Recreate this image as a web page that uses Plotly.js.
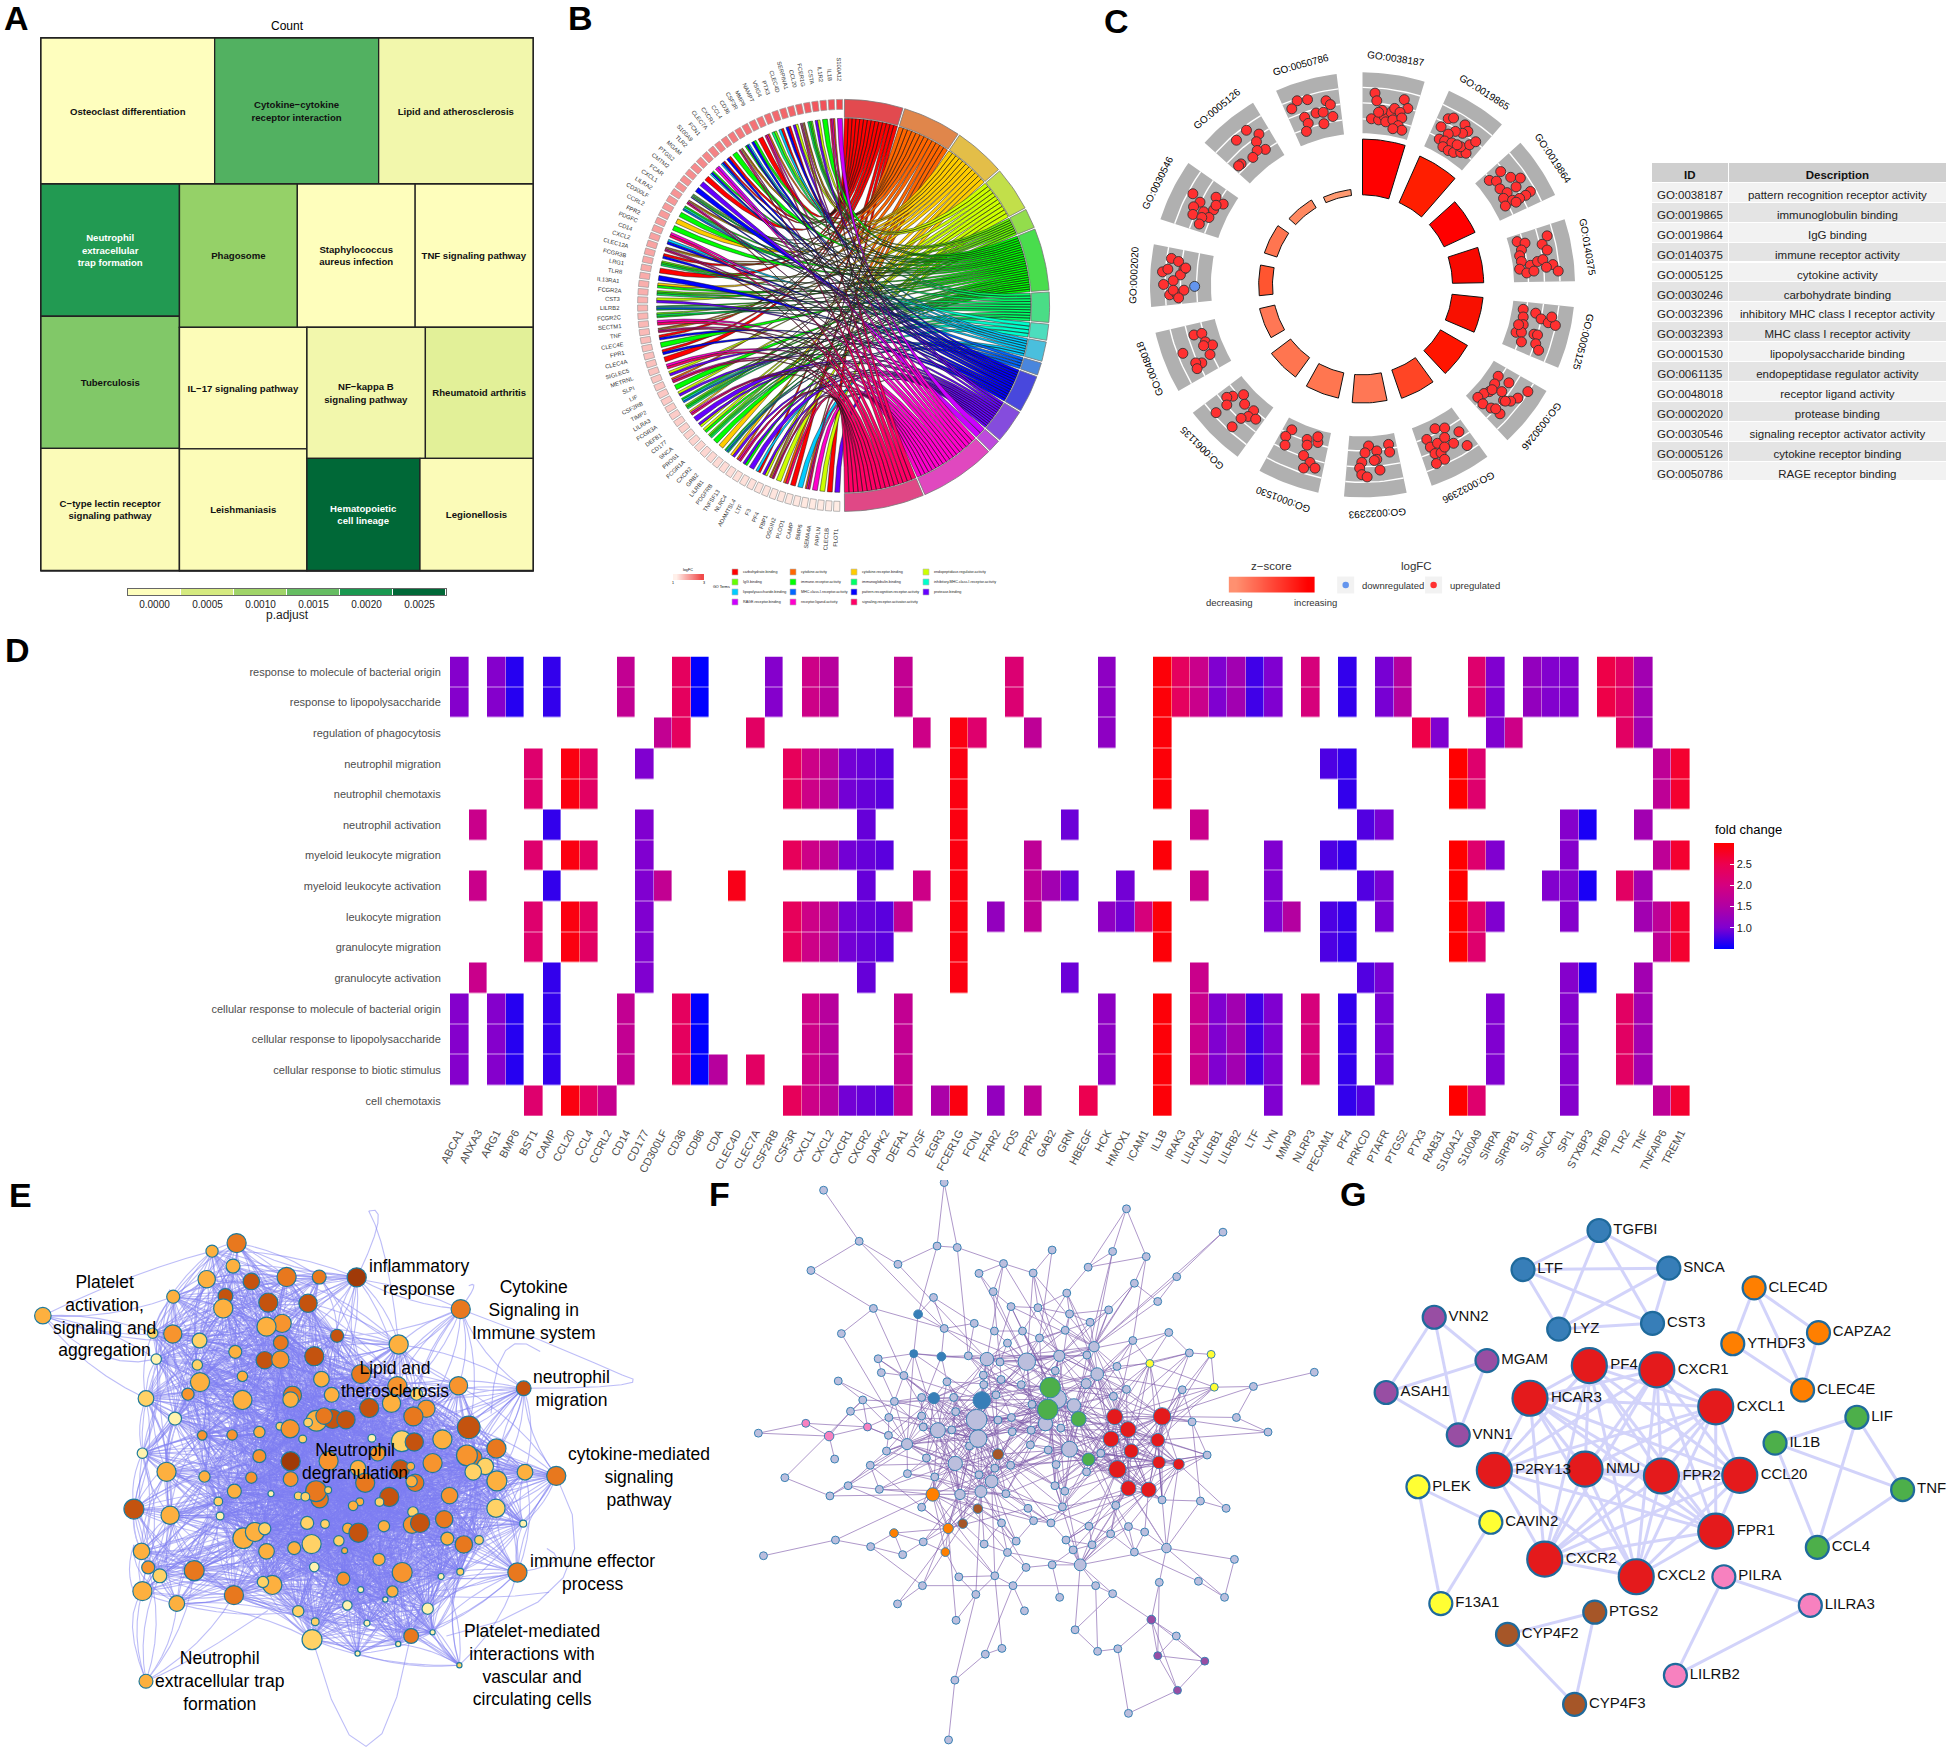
<!DOCTYPE html>
<html>
<head>
<meta charset="utf-8">
<script src="https://cdn.plot.ly/plotly-3.0.1.min.js"></script>
<style>html,body{margin:0;padding:0;background:#fff}</style>
</head>
<body>
<div id="plot" style="width:1948px;height:1752px"></div>
<script>
const PAGE_W = 1948, PAGE_H = 1752
const FONT = '"Liberation Sans", Arial, sans-serif'

// ---- panel A: KEGG treemap (gene counts and p.adjust colours)
const treeIds = ['Count','all','top','rest','c1','c2','c3','left','right','n1','t1','ct','r2','bottom','ph','st','tn','colIL','colR','il','le','rowNF','rowHe','nf','rh','he','lg']
const treeParents = ['','Count','all','all','top','top','top','rest','rest','left','left','left','right','right','r2','r2','r2','bottom','bottom','colIL','colIL','colR','colR','rowNF','rowNF','rowHe','rowHe']
const treeCounts = [0,0,0,0,18,17,16,0,0,13,13,12,0,0,12,12,12,0,0,11,11,0,0,11,10,9,9]
const treeText = ['','','','','Osteoclast differentiation','Cytokine\u2212cytokine<br>receptor interaction','Lipid and atherosclerosis','','','Neutrophil<br>extracellular<br>trap formation','Tuberculosis','C\u2212type lectin receptor<br>signaling pathway','','','Phagosome','Staphylococcus<br>aureus infection','TNF signaling pathway','','','IL\u221217 signaling pathway','Leishmaniasis','','','NF\u2212kappa B<br>signaling pathway','Rheumatoid arthritis','Hematopoietic<br>cell lineage','Legionellosis'].map(t => t ? '<b>' + t + '</b>' : t)
const treeColors = ['#fff','#fff','#fff','#fff','#FEFEBE','#52B161','#F2F7AC','#fff','#fff','#229A52','#81C868','#FBFBB8','#fff','#fff','#95D168','#FEFEBC','#FEFEBC','#fff','#fff','#FCFCB8','#FCFCB8','#fff','#fff','#F2F7AC','#E2F098','#006837','#FBFBB8']
const treeTextColors = treeIds.map(id => (id === 'n1' || id === 'he') ? '#fff' : '#111')
const padjustTicks = ['0.0000','0.0005','0.0010','0.0015','0.0020','0.0025']
const padjustColors = ['#FEFEBC','#D5EA80','#A0D468','#66BD63','#1A9850','#006837']

// ---- panel B: GO chord
const chordTerms = ['carbohydrate.binding','cytokine.activity','cytokine.receptor.binding','endopeptidase.regulator.activity','IgG.binding','immune.receptor.activity','immunoglobulin.binding','inhibitory.MHC.class.I.receptor.activity','lipopolysaccharide.binding','MHC.class.I.receptor.activity','pattern.recognition.receptor.activity','protease.binding','RAGE.receptor.binding','receptor.ligand.activity','signaling.receptor.activator.activity']
const chordTermSize = [17,17,15,13,6,18,9,5,6,4,11,10,4,22,23]
const chordColors = ['#FF0000','#FF6600','#FFCC00','#CCFF00','#66FF00','#00FF00','#00FF66','#00FFCC','#00CCFF','#0066FF','#0000FF','#6600FF','#CC00FF','#FF00CC','#FF0066']
const chordRing = ['#E24A4F','#E0864B','#E3BE48','#C2DF4A','#93DD4C','#49DD4D','#4ADD86','#4CDDBD','#4ABFDD','#4A86DD','#4848DD','#854CDD','#BE4ADD','#E048BF','#E04886']
const chordGenes = ['S100A12','IL1B','IL1R2','CSTA','FCER1G','CCL20','SERPINA1','CLEC4D','PTX3','VSIG4','NAMPT','MMP9','CSF3R','CD36','CCL4','CXCR1','CLEC7A','FCN1','S100A9','TLR2','MGAM','PTGS2','CMTM2','FCAR','CXCL1','LILRA2','CD300LF','CCRL2','FPR2','PDGFC','CD14','CXCL2','CLEC12A','FCGR3B','LRG1','TLR8','IL13RA1','FCGR2A','CST3','LILRB2','FCGR2C','SECTM1','TNF','CLEC4E','FPR1','CLEC4A','SIGLEC5','METRNL','SLPI','LIF','CSF2RB','TIMP2','LILRA3','FCGR3A','DEFB1','CD177','SNCA','PROS1','FCGR1A','CXCR2','GRB2','LILRB1','PDGFRB','TNFSF13','NLRC4','ADAMTSL4','LTF','F3','PF4','FBP1','OSGIN2','PLOD1','CAMP','BMP6','SEMA4A','PAPLN','CLEC1B','FLOT1']
const chordGeneTerms = [[12],[1,13,14],[5],[3,11],[4,5,6],[1,2,13,14],[3,11],[0,10],[0,8],[4,6],[1,13,14],[0],[5,10],[8,10,5],[1,2,13,14],[5],[0,10],[0,10,8],[12,13],[5,10,8],[0],[11],[10],[4,6,5,10],[1,2,13,14],[5,7,9],[5],[2],[5],[13,14],[8,10],[1,2,13,14],[0,10],[4,5,6],[0],[10],[2,5],[4,5,6],[3,11],[5,7,9,6],[4,6,5],[13,14],[1,2,13,14],[0,10],[5],[0,10],[0],[13,14],[3,11],[1,13,14],[5],[3,11],[5,7,9],[4,5,6],[2,13,14],[11],[11,3],[3,5],[4,5,6],[5],[2],[5,7,9,6],[2,11],[1,13,14],[11,5],[11],[8,0],[11,3],[1,2,13,14],[3],[1,14],[0],[8],[1,13,14],[13],[3],[0],[11]]
const chordLogFC = [3.0,2.9,2.85,2.8,2.75,2.7,2.65,2.62,2.58,2.55,2.5,2.47,2.44,2.4,2.37,2.34,2.3,2.27,2.24,2.2,2.18,2.15,2.12,2.09,2.06,2.03,2.0,1.98,1.95,1.93,1.9,1.88,1.85,1.83,1.8,1.78,1.75,1.73,1.7,1.68,1.65,1.63,1.6,1.58,1.56,1.54,1.52,1.5,1.48,1.46,1.44,1.42,1.4,1.38,1.36,1.34,1.32,1.3,1.28,1.26,1.24,1.22,1.2,1.18,1.17,1.15,1.14,1.12,1.11,1.1,1.08,1.07,1.06,1.05,1.04,1.03,1.02,1.0]

// ---- panel C: GO circle
const goIds = ['GO:0038187','GO:0019865','GO:0019864','GO:0140375','GO:0005125','GO:0030246','GO:0032396','GO:0032393','GO:0001530','GO:0061135','GO:0048018','GO:0002020','GO:0030546','GO:0005126','GO:0050786']
const goDescriptions = ['pattern recognition receptor activity','immunoglobulin binding','IgG binding','immune receptor activity','cytokine activity','carbohydrate binding','inhibitory MHC class I receptor activity','MHC class I receptor activity','lipopolysaccharide binding','endopeptidase regulator activity','receptor ligand activity','protease binding','signaling receptor activator activity','cytokine receptor binding','RAGE receptor binding']
const goNegLogP = [9.3,8.5,5.7,5.2,5.2,5.2,5.0,4.7,4.3,4.0,2.6,2.3,2.2,1.5,1.0]
const goZColors = ['#FF0000','#FF1E00','#FF0000','#F80800','#F81000','#FF1500','#FF4525','#FF7755','#FF7650','#FF7550','#FF7755','#FF5530','#FF7550','#FF8860','#FF9970']
const goUpX = [770,775,852,862,760,780,795,815,825,840,790,800,820,845,835,845,820,780, 975,990,955,1022,1030,1015,995,975,950,965,985,960,975,990,1010,1025,1010,1035,1052,1000, 1122,1090,1110,1150,1177,1120,1140,1165,1205,1192,1130,1155,1175,1135,1165, 1168,1190,1180,1175,1252,1238,1252,1180,1205,1225,1240,1268,1283,1175,1195,1215,1250, 1185,1220,1235,1255,1275,1265,1185,1185,1165,1180,1180,1215,1225,1220,1228,1172, 1115,1145,1198,1170,1150,1130,1105,1090,1075,1058,1072,1098,1125,1095,1120,1108,1135, 938,965,1005,915,925,945,965,990,1028,938,955,965,942,965, 752,808,811,742,775,775,768,733,727,784,733,748, 537,520,518,580,580,610,610,570,588,602,570, 402,372,355,355,405,430,325,415,395,370,436, 263,285,295,315,290,232,308,285,268,272, 200,220,235,225,240,175,190,205,178,195,215,235,205,220, 260,325,280,345,262,318,325,260,290,305,285,278, 410,445,382,438,463,440,428,395,388, 552,581,633,645,537,605,625,652,573,583,627,578]
const goUpY = [165,185,182,205,232,235,225,215,205,215,210,240,235,230,250,262,258,215, 232,230,253,248,265,270,265,272,285,290,295,305,315,320,320,322,305,300,292,300, 370,393,395,385,387,415,425,410,422,432,440,445,440,460,450, 553,557,575,590,538,560,575,605,615,605,600,613,630,625,635,630,620, 730,740,755,765,772,750,750,770,790,790,815,795,797,820,837,770, 905,922,945,962,970,968,925,945,950,960,977,940,945,988,1003,990,970, 1042,1040,1050,1070,1090,1080,1065,1080,1086,1107,1105,1122,1133,1090, 1087,1083,1103,1105,1100,1122,1125,1130,1145,1150,1162,1168, 1045,1062,1085,1070,1085,1078,1063,1112,1130,1145,1145, 953,957,960,980,978,995,1000,1010,1015,1037,1017, 797,793,815,823,825,845,848,870,870,885, 597,605,625,640,622,632,625,655,665,692,690,680,680,700, 428,437,450,455,462,470,458,482,475,490,490,507, 262,272,288,292,312,315,333,350,355, 185,182,185,195,206,217,215,226,228,244,245,265]
const goDownX = [265]
const goDownY = [670]

// ---- panel D: fold change heatmap
const dGenes = ['ABCA1','ANXA3','ARG1','BMP6','BST1','CAMP','CCL20','CCL4','CCRL2','CD14','CD177','CD300LF','CD36','CD86','CDA','CLEC4D','CLEC7A','CSF2RB','CSF3R','CXCL1','CXCL2','CXCR1','CXCR2','DAPK2','DEFA1','DYSF','EGR3','FCER1G','FCN1','FFAR2','FOS','FPR2','GAB2','GRN','HBEGF','HCK','HMOX1','ICAM1','IL1B','IRAK3','LILRA2','LILRB1','LILRB2','LTF','LYN','MMP9','NLRP3','PECAM1','PF4','PRKCD','PTAFR','PTGS2','PTX3','RAB31','S100A12','S100A9','SIRPA','SIRPB1','SLPI','SNCA','SPI1','STXBP3','THBD','TLR2','TNF','TNFAIP6','TREM1']
const dFold = [1.05,1.85,1.05,0.65,2.2,0.7,2.9,2.3,1.8,1.75,1.0,1.75,2.35,0.5,1.6,2.85,2.3,1.05,2.4,1.9,1.6,0.95,0.9,0.85,1.75,1.9,1.45,2.9,2.2,1.2,2.15,1.7,1.35,0.92,2.5,1.15,0.95,2.05,2.95,2.35,1.85,1.0,1.35,0.75,1.0,1.55,2.05,0.8,0.7,0.82,0.97,1.6,2.55,1.0,3.0,2.2,1.0,1.9,1.2,1.02,1.05,0.6,2.55,2.3,1.35,1.7,2.7]
const dTerms = ['response to molecule of bacterial origin','response to lipopolysaccharide','regulation of phagocytosis','neutrophil migration','neutrophil chemotaxis','neutrophil activation','myeloid leukocyte migration','myeloid leukocyte activation','leukocyte migration','granulocyte migration','granulocyte activation','cellular response to molecule of bacterial origin','cellular response to lipopolysaccharide','cellular response to biotic stimulus','cell chemotaxis']
const bactGenes = 'ABCA1 ARG1 BMP6 CAMP CD14 CD36 CD86 CSF2RB CXCL1 CXCL2 DEFA1 FOS HCK IL1B IRAK3 LILRA2 LILRB1 LILRB2 LTF LYN NLRP3 PF4 PTAFR PTGS2 S100A9 SIRPA SLPI SNCA SPI1 THBD TLR2 TNF'
const cellBactGenes = 'ABCA1 ARG1 BMP6 CAMP CD14 CD36 CD86 CXCL1 CXCL2 DEFA1 HCK IL1B LILRA2 LILRB1 LILRB2 LTF LYN NLRP3 PF4 PTAFR SIRPA SPI1 TLR2 TNF'
const activationGenes = 'ANXA3 CAMP CD177 CXCR2 FCER1G GRN LILRA2 PRKCD PTAFR SPI1 STXBP3 TNF'
const dTermGenes = [
  bactGenes,
  bactGenes,
  'CD300LF CD36 CLEC7A DYSF FCER1G FCN1 FPR2 HCK IL1B PTX3 RAB31 SIRPA SIRPB1 TLR2 TNF',
  'BST1 CCL20 CCL4 CD177 CSF3R CXCL1 CXCL2 CXCR1 CXCR2 DAPK2 FCER1G IL1B PECAM1 PF4 S100A12 S100A9 TNFAIP6 TREM1',
  'BST1 CCL20 CCL4 CSF3R CXCL1 CXCL2 CXCR1 CXCR2 DAPK2 FCER1G IL1B PF4 S100A12 S100A9 TNFAIP6 TREM1',
  activationGenes,
  'BST1 CCL20 CCL4 CD177 CSF3R CXCL1 CXCL2 CXCR1 CXCR2 DAPK2 FCER1G FPR2 IL1B LYN PECAM1 PF4 S100A12 S100A9 SIRPA SPI1 TNFAIP6 TREM1',
  'ANXA3 CAMP CD177 CD300LF CLEC4D CXCR2 DYSF FCER1G FPR2 GAB2 GRN HMOX1 LILRA2 LYN PRKCD PTAFR S100A12 SNCA SPI1 STXBP3 TLR2 TNF',
  'BST1 CCL20 CCL4 CD177 CSF3R CXCL1 CXCL2 CXCR1 CXCR2 DAPK2 DEFA1 FCER1G FFAR2 FPR2 HCK HMOX1 ICAM1 IL1B LYN MMP9 PECAM1 PF4 PTAFR S100A12 S100A9 SIRPA SPI1 TNF TNFAIP6 TREM1',
  'BST1 CCL20 CCL4 CD177 CSF3R CXCL1 CXCL2 CXCR1 CXCR2 DAPK2 FCER1G IL1B PECAM1 PF4 S100A12 S100A9 TNFAIP6 TREM1',
  activationGenes,
  cellBactGenes,
  cellBactGenes,
  cellBactGenes + ' CDA CLEC7A',
  'BST1 CCL20 CCL4 CCRL2 CSF3R CXCL1 CXCL2 CXCR1 CXCR2 DAPK2 DEFA1 EGR3 FCER1G FFAR2 FPR2 HBEGF IL1B LYN PF4 PRKCD S100A12 S100A9 SPI1 TNFAIP6 TREM1'
]
const foldScale = [[0,'#0000FF'],[0.2,'#8000D0'],[0.4,'#B000A4'],[0.6,'#D40080'],[0.8,'#EC0050'],[1,'#FF0000']]

// ---- panel E: enrichment network, nodes read as [x, y, diameter, shade] in crop pixels
const eShades = ['#FFF3AE','#FFD266','#FDB03F','#F7942E','#E8781E','#C4530F','#A03A08']
const eNodes = [[530,173,44,4],[475,195,28,2],[522,236,32,2],[463,272,40,2],[563,278,38,5],[642,266,44,4],[715,266,32,4],[799,267,44,6],[96,372,38,2],[388,320,30,2],[505,318,34,5],[500,352,44,2],[601,336,44,5],[690,338,42,5],[1032,354,44,4],[387,422,42,3],[342,420,24,1],[447,440,34,1],[632,393,42,3],[597,402,44,2],[755,427,30,5],[893,451,44,2],[629,446,34,4],[527,471,30,2],[350,491,24,0],[593,494,40,5],[628,492,40,3],[704,483,44,5],[442,507,24,1],[543,538,24,2],[448,554,44,2],[720,546,36,2],[809,532,44,4],[890,565,44,3],[1027,564,42,3],[1173,571,34,5],[421,587,28,3],[327,599,36,1],[543,603,44,2],[655,590,42,4],[651,602,36,2],[743,589,34,2],[877,612,42,2],[933,587,28,1],[392,654,30,0],[827,625,44,5],[955,627,40,3],[926,648,44,4],[709,660,48,2],[745,655,44,5],[726,647,38,4],[775,657,42,5],[1050,678,52,5],[627,675,18,1],[690,665,20,1],[650,682,42,3],[453,700,22,3],[520,699,24,3],[581,691,26,2],[678,710,18,1],[833,708,18,0],[900,716,48,1],[928,718,42,5],[991,711,44,2],[319,749,24,0],[1112,736,44,4],[581,757,30,3],[651,771,44,6],[736,770,44,3],[846,750,34,3],[1062,760,36,4],[1046,755,48,3],[969,776,44,3],[373,800,44,2],[458,813,26,2],[563,816,26,3],[802,790,36,2],[897,792,42,5],[920,785,18,2],[1087,785,38,1],[1060,800,38,1],[1176,801,36,2],[1246,811,44,4],[1113,825,46,2],[651,820,34,3],[930,830,40,4],[922,826,26,2],[818,830,44,4],[716,875,40,4],[708,853,48,4],[735,850,16,1],[668,866,18,1],[684,868,20,1],[525,853,32,2],[607,860,14,0],[872,869,44,5],[1007,865,38,3],[489,881,20,1],[806,882,18,2],[791,893,22,2],[850,883,20,1],[300,902,46,5],[1111,900,42,1],[381,919,42,2],[493,921,18,0],[925,910,24,1],[1172,942,16,0],[688,940,30,1],[728,943,20,1],[995,930,40,4],[923,945,40,3],[941,940,44,5],[545,982,48,2],[571,965,44,2],[593,956,28,1],[860,949,26,2],[779,955,24,2],[803,967,44,5],[759,989,24,1],[1002,983,30,2],[1039,999,40,4],[1073,987,20,1],[317,1018,38,2],[698,998,44,1],[659,1009,30,2],[597,1018,36,2],[772,1016,14,2],[849,1040,28,2],[332,1062,30,3],[704,1061,22,0],[435,1071,46,4],[358,1085,32,1],[901,1076,46,3],[1159,1076,44,4],[1031,1074,16,1],[988,1087,14,0],[769,1093,30,3],[319,1127,44,2],[610,1110,44,2],[589,1102,26,1],[524,1138,44,4],[879,1128,26,2],[396,1161,36,2],[808,1123,14,0],[863,1150,12,0],[778,1166,22,0],[958,1175,26,0],[668,1182,26,1],[706,1211,18,1],[822,1215,14,0],[699,1260,46,1],[921,1250,34,4],[969,1240,12,0],[892,1272,12,0],[801,1298,12,0],[1029,1330,12,1],[327,1374,32,2]]
// long looping edges as [x0, y0, cx, cy, x1, y1]
const eLoops = [[327,1374,270,1200,320,1130],[327,1374,420,1330,600,1180],[800,267,880,60,826,85],[826,85,870,180,893,451],[700,1260,830,1850,920,1250],[1032,354,1200,430,1395,535],[1173,571,1500,570,1395,535],[1246,811,1400,1150,1000,1250],[1159,1076,1290,1050,1225,1010],[780,1100,1000,1170,1230,1130],[1100,640,1110,380,1210,470],[380,300,335,550,380,800],[96,372,230,530,350,491],[96,372,300,250,475,195],[300,1000,280,1070,300,1130],[396,1161,290,1090,300,1000],[1246,811,1200,900,1172,942],[1032,354,1080,270,1050,290]]
const eLabels = ['Platelet<br>activation,<br>signaling and<br>aggregation','inflammatory<br>response','Cytokine<br>Signaling in<br>Immune system','Lipid and<br>therosclerosis','neutrophil<br>migration','Neutrophil<br>degranulation','cytokine-mediated<br>signaling<br>pathway','immune effector<br>process','Platelet-mediated<br>interactions with<br>vascular and<br>circulating cells','Neutrophil<br>extracellular trap<br>formation']
const eLabelX = [233,938,1197,885,1280,795,1431,1327,1192,492]
const eLabelY = [373,268,355,547,572,771,813,1076,1330,1374]

// ---- panel F: PPI network, nodes read as [x, y, diameter] in crop pixels
const fGrayNodes = [[262,28],[567,7],[352,168],[549,181],[600,185],[717,229],[840,192],[993,196],[1028,79],[1078,210],[1272,143],[931,239],[1155,265],[230,248],[450,231],[655,256],[792,255],[1048,283],[877,310],[691,306],[540,322],[388,352],[1107,333],[736,347],[804,350],[983,356],[884,367],[643,393],[936,390],[567,407],[694,414],[765,414],[873,412],[307,421],[1135,418],[808,433],[1044,440],[727,447],[400,490],[628,482],[708,499],[928,480],[1187,474],[848,523],[408,528],[465,536],[1004,511],[666,535],[299,551],[574,553],[711,547],[762,561],[1169,575],[1028,574],[1349,566],[1503,527],[667,561],[361,603],[441,607],[510,596],[591,596],[698,589],[789,615],[995,593],[330,634],[427,651],[510,647],[596,635],[703,658],[737,651],[1306,651],[1194,663],[1386,691],[97,694],[514,677],[586,685],[739,690],[787,686],[862,680],[426,700],[631,729],[785,726],[830,740],[963,749],[1232,754],[421,743],[290,765],[522,762],[380,782],[735,782],[695,790],[850,780],[164,816],[474,805],[655,808],[543,814],[927,800],[278,866],[324,838],[403,848],[723,860],[847,838],[872,853],[1118,877],[1215,880],[1280,900],[1001,892],[510,897],[779,900],[866,896],[793,934],[712,940],[837,940],[933,949],[1033,950],[988,970],[1074,965],[292,987],[110,1030],[381,1005],[514,992],[668,998],[749,990],[875,987],[941,1000],[893,1014],[462,1027],[727,1021],[1048,1020],[1129,1009],[1301,1040],[774,1062],[840,1055],[604,1088],[695,1085],[512,1112],[741,1112],[950,1112],[1111,1103],[1210,1100],[1276,1144],[449,1162],[647,1136],[859,1144],[993,1134],[770,1181],[597,1207],[898,1233],[1154,1250],[671,1300],[713,1284],[955,1292],[1006,1285],[594,1371],[1033,1462],[578,1535]]
const fMediumNodes = [[675,491,34],[776,498,44],[858,482,28],[946,457,26],[954,532,32],[926,558,25],[852,600,48],[895,618,34],[823,668,36],[649,657,52],[653,709,44],[551,686,38],[473,724,28],[595,777,36],[884,738,40],[687,826,32],[660,854,30],[607,862,26],[911,1055,30],[1129,1009,24]]
const fColorNodes = {
  '#377EB8': [[662,604,44],[541,598,28],[501,368,22],[490,476,20],[560,484,22]],
  '#4DAF4A': [[835,569,52],[829,629,52],[907,655,38],[932,766,32]],
  '#E41A1C': [[998,649,40],[1118,648,44],[1032,684,40],[989,710,40],[1107,713,34],[1040,743,36],[1110,774,32],[1160,779,28],[1005,793,44],[1033,845,38],[1084,849,38]],
  '#FFFF33': [[1087,503,20],[1242,478,20],[1250,568,20]],
  '#F781BF': [[217,667,20],[276,702,24],[373,677,20]],
  '#FF7F00': [[538,862,34],[577,955,26],[440,968,22],[570,1020,22]],
  '#A65628': [[703,752,28],[652,901,24],[614,942,24]],
  '#984EA3': [[1091,1205,22],[1107,1304,20],[1226,1319,20],[1157,1399,20]]
}
// visible outer edges, as chains of node positions
const fChains = [[[262,28],[352,168],[567,407]],[[567,7],[600,185],[628,482]],[[549,181],[501,368],[490,476]],[[600,185],[717,229],[858,482]],[[840,192],[808,433]],[[1028,79],[931,239],[1078,210]],[[1028,79],[1078,210],[1044,440]],[[1272,143],[946,457]],[[993,196],[928,480]],[[230,248],[388,352],[567,407]],[[388,352],[465,536]],[[450,231],[675,491]],[[655,256],[776,498]],[[792,255],[776,498]],[[1155,265],[946,457]],[[1048,283],[928,480]],[[877,310],[776,498]],[[691,306],[708,499]],[[540,322],[501,368]],[[1107,333],[946,457]],[[736,347],[946,457]],[[307,421],[473,724]],[[1135,418],[954,532]],[[299,551],[551,686]],[[1503,527],[1349,566],[1250,568],[1087,503]],[[1349,566],[1118,648]],[[1306,651],[1118,648]],[[1386,691],[1118,648]],[[97,694],[276,702]],[[164,816],[278,866]],[[164,816],[361,603]],[[1232,754],[1107,713]],[[1280,900],[1215,880],[1129,1009]],[[1215,880],[1194,663]],[[110,1030],[292,987],[538,862]],[[381,1005],[512,1112]],[[1301,1040],[1276,1144],[1129,1009]],[[1301,1040],[1129,1009],[911,1055]],[[1210,1100],[1048,1020]],[[449,1162],[660,854]],[[647,1136],[597,1207]],[[647,1136],[660,854]],[[594,1371],[647,1136]],[[578,1535],[594,1371]],[[671,1300],[741,1112]],[[713,1284],[695,1085]],[[770,1181],[741,1112]],[[1033,1462],[1006,1285],[954,1292],[950,1112]],[[1006,1285],[1091,1205],[993,1134]],[[1091,1205],[1107,1304],[1226,1319],[1157,1399],[1107,1304]],[[1091,1205],[1226,1319]],[[1091,1205],[1157,1399]],[[1154,1250],[1091,1205]],[[1111,1103],[1091,1205]],[[1111,1103],[1107,1304]],[[898,1233],[993,1134],[911,1055]],[[512,1112],[950,1112]],[[512,1112],[614,942]],[[1242,478],[1187,474],[1087,503]],[[1242,478],[1250,568]],[[1242,478],[1118,648]],[[1087,503],[1118,648]],[[217,667],[276,702],[373,677],[217,667]]]

// ---- panel G: MCODE clusters
const gNames = ['TGFBI','LTF','SNCA','LYZ','CST3','CLEC4D','CAPZA2','YTHDF3','CLEC4E','VNN2','MGAM','ASAH1','VNN1','PF4','CXCR1','HCAR3','CXCL1','P2RY13','NMU','FPR2','CCL20','FPR1','CXCR2','CXCL2','LIF','IL1B','TNF','CCL4','PLEK','CAVIN2','F13A1','PILRA','LILRA3','LILRB2','PTGS2','CYP4F2','CYP4F3']
const gX = [668,472,848,564,806,1068,1234,1013,1193,243,379,119,305,643,817,490,969,398,632,829,1031,969,528,764,1333,1122,1451,1231,201,389,260,990,1213,865,657,432,605]
const gY = [113,222,218,388,372,273,398,429,558,355,476,565,683,490,502,581,605,782,779,798,796,952,1030,1079,634,706,836,997,828,927,1154,1079,1159,1354,1178,1240,1435]
const gColors = ['#377EB8','#377EB8','#377EB8','#377EB8','#377EB8','#FF7F00','#FF7F00','#FF7F00','#FF7F00','#984EA3','#984EA3','#984EA3','#984EA3','#E41A1C','#E41A1C','#E41A1C','#E41A1C','#E41A1C','#E41A1C','#E41A1C','#E41A1C','#E41A1C','#E41A1C','#E41A1C','#4DAF4A','#4DAF4A','#4DAF4A','#4DAF4A','#FFFF33','#FFFF33','#FFFF33','#F781BF','#F781BF','#F781BF','#A65628','#A65628','#A65628']
const gCliques = [['TGFBI','LTF','SNCA','LYZ','CST3'],['VNN2','MGAM','ASAH1','VNN1'],['PF4','CXCR1','HCAR3','CXCL1','P2RY13','NMU','FPR2','CCL20','FPR1','CXCR2','CXCL2'],['LIF','IL1B','TNF','CCL4'],['PLEK','CAVIN2','F13A1'],['PILRA','LILRA3','LILRB2'],['PTGS2','CYP4F2','CYP4F3']]
const gPairs = [['CLEC4D','YTHDF3'],['CLEC4D','CAPZA2'],['CLEC4D','CLEC4E'],['CAPZA2','CLEC4E'],['YTHDF3','CLEC4E']]

// ---- helpers
const xDom = (a, b) => [a / PAGE_W, b / PAGE_W]
const yDom = (a, b) => [1 - b / PAGE_H, 1 - a / PAGE_H]
const hidden = (domain, range) => ({ domain, range, visible: false, fixedrange: true })
const traces = []
const annotations = []

function pageNote(text, x, y, size, opts) {
  annotations.push(Object.assign({ text, x: x / PAGE_W, y: 1 - y / PAGE_H, xref: 'paper', yref: 'paper', showarrow: false,
    font: { family: FONT, size, color: '#000' }, xanchor: 'center', yanchor: 'middle' }, opts || {}))
}

// ---- A
traces.push({
  type: 'treemap', ids: treeIds, labels: treeIds, parents: treeParents, values: treeCounts,
  branchvalues: 'remainder', sort: false, text: treeText, textinfo: 'text', textposition: 'middle center',
  textfont: { family: FONT, size: 9.6, color: treeTextColors },
  marker: { colors: treeColors, line: { color: '#222', width: 1.3 }, pad: { t: 0, l: 0, r: 0, b: 0 } },
  tiling: { packing: 'slice-dice', pad: 0 }, pathbar: { visible: false }, hoverinfo: 'skip',
  domain: { x: xDom(41, 533), y: yDom(38, 570.5) }
})
traces.push({
  type: 'heatmap', xaxis: 'x7', yaxis: 'y7', z: [padjustTicks.map((t, i) => i)], x: padjustTicks.map((t, i) => i), y: [0],
  colorscale: padjustColors.flatMap((c, i) => [[i / 6, c], [(i + 1) / 6, c]]), zmin: -0.5, zmax: 5.5, showscale: false, hoverinfo: 'skip', xgap: 1
})

// ---- B
const polar = (a, r) => [r * Math.sin(a * Math.PI / 180), r * Math.cos(a * Math.PI / 180)]
function arcPoints(a0, a1, r) {
  const pts = []
  const n = Math.max(2, Math.ceil(Math.abs(a1 - a0) / 1.5))
  for (let i = 0; i <= n; i++) pts.push(polar(a0 + (a1 - a0) * i / n, r))
  return pts
}
function sectorPoly(a0, a1, r0, r1) {
  return arcPoints(a0, a1, r1).concat(arcPoints(a1, a0, r0))
}
function ribbonCurve(p0, p1) {
  const pts = []
  for (let k = 0; k <= 14; k++) {
    const t = k / 14
    pts.push([p0[0] * (1 - t) * (1 - t) + p1[0] * t * t, p0[1] * (1 - t) * (1 - t) + p1[1] * t * t])
  }
  return pts
}
const termStart = []
let runningAngle = 0
chordTermSize.forEach(s => { termStart.push(runningAngle); runningAngle += s })
const geneStep = 179.2 / chordGenes.length
const termGenes = chordTerms.map(() => [])
chordGeneTerms.forEach((list, g) => list.forEach(t => termGenes[t].push(g)))
const CHORD_R = 187
const RIBBON_SHARE = 0.66

chordTerms.forEach((name, t) => {
  const xs = [], ys = []
  const a0 = termStart[t] + 0.25, a1 = termStart[t] + chordTermSize[t] - 0.25
  termGenes[t].forEach((g, k) => {
    const w = (a1 - a0) / termGenes[t].length
    const ta0 = a0 + k * w, ta1 = ta0 + w
    const gc = 360 - (g + 0.5) * geneStep
    const list = chordGeneTerms[g]
    const pos = list.indexOf(t)
    const gw = geneStep * RIBBON_SHARE / list.length
    const ga1 = gc + geneStep * RIBBON_SHARE / 2 - pos * gw, ga0 = ga1 - gw
    const poly = arcPoints(ta0, ta1, CHORD_R)
      .concat(ribbonCurve(polar(ta1, CHORD_R), polar(ga1, CHORD_R)))
      .concat(arcPoints(ga1, ga0, CHORD_R))
      .concat(ribbonCurve(polar(ga0, CHORD_R), polar(ta0, CHORD_R)))
    poly.forEach(p => { xs.push(p[0]); ys.push(p[1]) })
    xs.push(xs[xs.length - poly.length]); ys.push(ys[ys.length - poly.length])
    xs.push(null); ys.push(null)
  })
  traces.push({ type: 'scatter', xaxis: 'x2', yaxis: 'y2', mode: 'lines', x: xs, y: ys, fill: 'toself', fillcolor: chordColors[t],
    line: { color: '#1a1a1a', width: 0.5 }, hoverinfo: 'skip' })
})
chordTerms.forEach((name, t) => {
  const poly = sectorPoly(termStart[t] + 0.25, termStart[t] + chordTermSize[t] - 0.25, 188, 206)
  poly.push(poly[0])
  traces.push({ type: 'scatter', xaxis: 'x2', yaxis: 'y2', mode: 'lines', x: poly.map(p => p[0]), y: poly.map(p => p[1]), fill: 'toself',
    fillcolor: chordRing[t], line: { color: '#777', width: 0.8 }, hoverinfo: 'skip' })
})
function logFCColor(v) {
  const f = (v - 1) / 2
  const r = Math.round(255 - f * 15), g = Math.round(236 - f * 166), b = Math.round(228 - f * 150)
  return `rgb(${r},${g},${b})`
}
chordGenes.forEach((name, g) => {
  const c = 360 - (g + 0.5) * geneStep
  const poly = sectorPoly(c - geneStep * 0.38, c + geneStep * 0.38, 196, 206)
  poly.push(poly[0])
  traces.push({ type: 'scatter', xaxis: 'x2', yaxis: 'y2', mode: 'lines', x: poly.map(p => p[0]), y: poly.map(p => p[1]), fill: 'toself',
    fillcolor: logFCColor(chordLogFC[g]), line: { color: '#999', width: 0.7 }, hoverinfo: 'skip' })
  const lp = polar(c, 224 + 1.75 * name.length)
  annotations.push({ text: name, x: lp[0], y: lp[1], xref: 'x2', yref: 'y2', showarrow: false, textangle: c - 270,
    font: { family: FONT, size: 5.8, color: '#333' }, xanchor: 'center', yanchor: 'middle' })
})
// chord legend
const swatchX = [735, 793, 854, 926]
const swatchY = [572, 582, 592, 602]
const legendOrder = [0,1,2,3,4,5,6,7,8,9,10,11,12,13,14]
traces.push({ type: 'scatter', xaxis: 'x9', yaxis: 'y9', mode: 'markers',
  x: legendOrder.map(i => swatchX[i % 4]), y: legendOrder.map(i => swatchY[Math.floor(i / 4)]),
  marker: { symbol: 'square', size: 6, color: legendOrder.map(i => chordColors[i]), line: { color: '#bbb', width: 0.6 } }, hoverinfo: 'skip' })
legendOrder.forEach(i => pageNote(chordTerms[i], swatchX[i % 4] + 6, swatchY[Math.floor(i / 4)], 3.7, { xanchor: 'left', font: { family: FONT, size: 3.7, color: '#222' } }))
pageNote('logFC', 688, 570, 3.7)
pageNote('1', 673, 583, 3.7)
pageNote('3', 704, 583, 3.7)
pageNote('GO Terms', 721, 587, 3.7)
traces.push({ type: 'heatmap', xaxis: 'x8', yaxis: 'y8', z: [[1, 1.5, 2, 2.5, 3]], zsmooth: 'best', colorscale: [[0, '#FFF0EA'], [1, '#F04A4A']], showscale: false, hoverinfo: 'skip' })

// ---- C
const C_X = 735, C_Y = 666, C_SX = 2.8, C_SY = 2.613
const cPoint = (a, r) => [C_X + r * Math.sin(a * Math.PI / 180) * C_SX, C_Y - r * Math.cos(a * Math.PI / 180) * C_SY]
function cArc(a0, a1, r) {
  const pts = []
  for (let i = 0; i <= 12; i++) pts.push(cPoint(a0 + (a1 - a0) * i / 12, r))
  return pts
}
const SECTOR_W = 17, SECTOR_STEP = 24
const grayX = [], grayY = [], gridX = [], gridY = []
goIds.forEach((id, i) => {
  const a0 = i * SECTOR_STEP, a1 = a0 + SECTOR_W
  const poly = cArc(a0, a1, 212.5).concat(cArc(a1, a0, 151.6))
  poly.push(poly[0])
  poly.forEach(p => { grayX.push(p[0]); grayY.push(p[1]) })
  grayX.push(null); grayY.push(null)
  ;[166, 182, 197.5].forEach(r => {
    cArc(a0, a1, r).forEach(p => { gridX.push(p[0]); gridY.push(p[1]) })
    gridX.push(null); gridY.push(null)
  })
  const lp = cPoint(a0 + SECTOR_W / 2, 228.6)
  annotations.push({ text: id, x: lp[0], y: lp[1], xref: 'x3', yref: 'y3', showarrow: false, textangle: a0 + SECTOR_W / 2,
    font: { family: FONT, size: 10, color: '#000' }, xanchor: 'center', yanchor: 'middle' })
})
traces.push({ type: 'scatter', xaxis: 'x3', yaxis: 'y3', mode: 'lines', x: grayX, y: grayY, fill: 'toself', fillcolor: '#B0B0B0', line: { width: 0 }, hoverinfo: 'skip' })
traces.push({ type: 'scatter', xaxis: 'x3', yaxis: 'y3', mode: 'lines', x: gridX, y: gridY, line: { color: '#fff', width: 1.4 }, hoverinfo: 'skip' })
goIds.forEach((id, i) => {
  const a0 = i * SECTOR_STEP, a1 = a0 + SECTOR_W
  const poly = cArc(a0, a1, 90 + goNegLogP[i] * 6).concat(cArc(a1, a0, 90))
  poly.push(poly[0])
  traces.push({ type: 'scatter', xaxis: 'x3', yaxis: 'y3', mode: 'lines', x: poly.map(p => p[0]), y: poly.map(p => p[1]), fill: 'toself',
    fillcolor: goZColors[i], line: { color: '#111', width: 1 }, hoverinfo: 'skip' })
})
traces.push({ type: 'scatter', xaxis: 'x3', yaxis: 'y3', mode: 'markers', x: goUpX, y: goUpY,
  marker: { size: 10, color: '#FF3030', line: { color: '#333', width: 0.9 } }, hoverinfo: 'skip' })
traces.push({ type: 'scatter', xaxis: 'x3', yaxis: 'y3', mode: 'markers', x: goDownX, y: goDownY,
  marker: { size: 10, color: '#6495ED', line: { color: '#333', width: 0.9 } }, hoverinfo: 'skip' })
traces.push({ type: 'heatmap', xaxis: 'x10', yaxis: 'y10', z: [[0, 1, 2, 3, 4, 5]], zsmooth: 'best', colorscale: [[0, '#FF9070'], [1, '#FF0000']], showscale: false, hoverinfo: 'skip' })
pageNote('z\u2212score', 1271, 566, 11.5, { font: { family: FONT, size: 11.5, color: '#333' } })
pageNote('decreasing', 1228.6, 602.5, 9.5, { font: { family: FONT, size: 9.5, color: '#333' } })
pageNote('increasing', 1315, 602.5, 9.5, { font: { family: FONT, size: 9.5, color: '#333' } })
pageNote('logFC', 1416, 566, 11.5, { font: { family: FONT, size: 11.5, color: '#333' } })
pageNote('downregulated', 1360, 585, 9.5, { xanchor: 'left', font: { family: FONT, size: 9.5, color: '#333' } })
pageNote('upregulated', 1447.5, 585, 9.5, { xanchor: 'left', font: { family: FONT, size: 9.5, color: '#333' } })
traces.push({ type: 'scatter', xaxis: 'x9', yaxis: 'y9', mode: 'markers', x: [1345.7, 1433.6], y: [585, 585],
  marker: { size: 17, symbol: 'square', color: '#F2F2F2' }, hoverinfo: 'skip' })
traces.push({ type: 'scatter', xaxis: 'x9', yaxis: 'y9', mode: 'markers', x: [1345.7, 1433.6], y: [585, 585],
  marker: { size: 6.5, color: ['#6495ED', '#FF3030'] }, hoverinfo: 'skip' })
traces.push({
  type: 'table', domain: { x: xDom(1651, 1947), y: yDom(162.5, 483) }, columnwidth: [78, 218],
  header: { values: ['ID', 'Description'], align: 'center', height: 19.9, fill: { color: '#CFCFCF' }, line: { color: '#fff', width: 1 }, font: { family: FONT, size: 11.5, color: '#111', weight: 'bold' } },
  cells: { values: [goIds, goDescriptions], align: 'center', height: 19.9, line: { color: '#fff', width: 1 },
    fill: { color: [goIds.map((x, i) => i % 2 ? '#E4E4E4' : '#F2F2F2')] }, font: { family: FONT, size: 11.5, color: '#222' } }
})

// ---- D
const dZ = dTermGenes.map(list => {
  const members = list.split(' ')
  return dGenes.map((g, i) => members.includes(g) ? dFold[i] : null)
})
traces.push({
  type: 'heatmap', x: dGenes, y: dTerms, z: dZ, zmin: 0.5, zmax: 3, colorscale: foldScale, xgap: 0.4, ygap: 0.6, hoverinfo: 'skip',
  colorbar: { x: 1714 / PAGE_W, xanchor: 'left', y: 1 - 843 / PAGE_H, yanchor: 'top', lenmode: 'pixels', len: 106, thicknessmode: 'pixels', thickness: 20,
    xpad: 0, ypad: 0, outlinewidth: 0, tickvals: [1, 1.5, 2, 2.5], tickformat: '.1f', ticks: 'inside', ticklen: 4, tickcolor: '#fff', tickfont: { family: FONT, size: 11, color: '#222' } }
})
pageNote('fold change', 1713, 830, 13, { xanchor: 'left' })

// ---- E
const eAxis = { xaxis: 'x4', yaxis: 'y4' }
const eGroups = [0, 1, 2, 3, 4, 5].map(() => ({ x: [], y: [] }))
function addCurve(g, x0, y0, cx, cy, x1, y1) {
  for (let k = 0; k <= 6; k++) {
    const t = k / 6, u = 1 - t
    g.x.push(u * u * x0 + 2 * u * t * cx + t * t * x1)
    g.y.push(u * u * y0 + 2 * u * t * cy + t * t * y1)
  }
  g.x.push(null); g.y.push(null)
}
eNodes.forEach((a, i) => {
  const nearest = eNodes.map((b, j) => [Math.hypot(a[0] - b[0], a[1] - b[1]), j]).filter(d => d[1] !== i).sort((p, q) => p[0] - q[0])
  nearest.forEach((d, rank) => {
    const j = d[1]
    if (!(d[0] < 340 || rank < 6) || (j < i && d[0] < 340)) return
    const b = eNodes[j]
    const sign = (i + j) % 2 ? 1 : -1
    const cx = (a[0] + b[0]) / 2 - (b[1] - a[1]) * 0.13 * sign
    const cy = (a[1] + b[1]) / 2 + (b[0] - a[0]) * 0.13 * sign
    addCurve(eGroups[(i + j) % 6], a[0], a[1], cx, cy, b[0], b[1])
  })
})
eLoops.forEach((l, i) => addCurve(eGroups[i % 6], l[0], l[1], l[2], l[3], l[4], l[5]))
eGroups.forEach(g => traces.push(Object.assign({ type: 'scatter', mode: 'lines', x: g.x, y: g.y, opacity: 0.5,
  line: { color: '#7C7CF2', width: 1.1 }, hoverinfo: 'skip' }, eAxis)))
traces.push(Object.assign({ type: 'scatter', mode: 'markers', x: eNodes.map(n => n[0]), y: eNodes.map(n => n[1]),
  marker: { opacity: 1, size: eNodes.map(n => n[2] / 2.3), color: eNodes.map(n => eShades[n[3]]), line: { color: '#1F7A9C', width: 1.2 } }, hoverinfo: 'skip' }, eAxis))
eLabels.forEach((t, i) => annotations.push({ text: t, x: eLabelX[i], y: eLabelY[i], xref: 'x4', yref: 'y4', showarrow: false,
  font: { family: FONT, size: 17.5, color: '#000' }, xanchor: 'center', yanchor: 'middle', align: 'center' }))

// ---- F
const fAxis = { xaxis: 'x5', yaxis: 'y5' }
const fNodes = fGrayNodes.map(n => ({ x: n[0], y: n[1], d: 20, c: '#BBBEDD' }))
  .concat(fMediumNodes.map(n => ({ x: n[0], y: n[1], d: n[2], c: '#BBBEDD' })))
Object.keys(fColorNodes).forEach(c => fColorNodes[c].forEach(n => fNodes.push({ x: n[0], y: n[1], d: n[2], c })))
const fDist = (a, b) => Math.hypot(a.x - b.x, a.y - b.y)
const fSeen = new Set()
const fEdgeGroups = [0, 1, 2, 3].map(() => ({ x: [], y: [] }))
function addEdge(i, j) {
  if (i === j) return
  const key = Math.min(i, j) + '-' + Math.max(i, j)
  if (fSeen.has(key)) return
  fSeen.add(key)
  const g = fEdgeGroups[fSeen.size % 4]
  g.x.push(fNodes[i].x, fNodes[j].x, null)
  g.y.push(fNodes[i].y, fNodes[j].y, null)
}
function nearestNode(p) {
  let best = 0, bd = 1e9
  fNodes.forEach((n, i) => { const d = Math.hypot(n.x - p[0], n.y - p[1]); if (d < bd) { bd = d; best = i } })
  return best
}
fChains.forEach(ch => { for (let k = 1; k < ch.length; k++) addEdge(nearestNode(ch[k - 1]), nearestNode(ch[k])) })
fNodes.forEach((a, i) => {
  const order = fNodes.map((b, j) => [fDist(a, b), j]).filter(d => d[1] !== i).sort((p, q) => p[0] - q[0])
  addEdge(i, order[0][1])
  const central = Math.hypot(a.x - 760, a.y - 700) < 450
  if (central) {
    order.slice(0, 3).forEach(d => addEdge(i, d[1]))
    if (a.d >= 26) order.filter(d => d[0] < 280).forEach((d, rank) => { if (rank % 4 === 0) addEdge(i, d[1]) })
  }
})
fColorNodes['#E41A1C'].forEach((a, i, list) => list.forEach((b, j) => { if (j > i) addEdge(nearestNode(a), nearestNode(b)) }))
fEdgeGroups.forEach(g => traces.push(Object.assign({ type: 'scatter', mode: 'lines', x: g.x, y: g.y, opacity: 0.6,
  line: { color: '#7A55A8', width: 1 }, hoverinfo: 'skip' }, fAxis)))
traces.push(Object.assign({ type: 'scatter', mode: 'markers', x: fNodes.map(n => n.x), y: fNodes.map(n => n.y),
  marker: { opacity: 1, size: fNodes.map(n => n.d / 2.53), color: fNodes.map(n => n.c), line: { color: '#3A82B4', width: 1 } }, hoverinfo: 'skip' }, fAxis))

// ---- G
const gEdges = { x: [], y: [] }
function gLink(a, b) {
  const i = gNames.indexOf(a), j = gNames.indexOf(b)
  gEdges.x.push(gX[i], gX[j], null)
  gEdges.y.push(gY[i], gY[j], null)
}
gCliques.forEach(c => c.forEach((a, i) => c.slice(i + 1).forEach(b => gLink(a, b))))
gPairs.forEach(p => gLink(p[0], p[1]))
traces.push({ type: 'scatter', xaxis: 'x6', yaxis: 'y6', mode: 'lines', x: gEdges.x, y: gEdges.y, opacity: 0.8,
  line: { color: '#C8C9FA', width: 3 }, hoverinfo: 'skip' })
traces.push({ type: 'scatter', xaxis: 'x6', yaxis: 'y6', mode: 'markers', x: gX, y: gY,
  marker: { opacity: 1, size: gColors.map(c => c === '#E41A1C' ? 35 : 23), color: gColors, line: { color: '#1F6A9C', width: 2.2 } }, hoverinfo: 'skip' })
traces.push({ type: 'scatter', xaxis: 'x6', yaxis: 'y6', mode: 'text', x: gX.map((v, i) => v + (gColors[i] === '#E41A1C' ? 54 : 37)), y: gY, text: gNames, textposition: 'middle right',
  textfont: { family: FONT, size: 15, color: '#111' }, hoverinfo: 'skip' })

// ---- page text
pageNote('Count', 287, 26, 12)
pageNote('p.adjust', 287, 615, 12, { font: { family: FONT, size: 12, color: '#222' } })
const panelLetters = ['A', 'B', 'C', 'D', 'E', 'F', 'G']
const letterX = [16, 580, 1116, 17, 20, 719, 1353]
const letterY = [18, 18, 21, 650, 1195, 1194, 1194]
panelLetters.forEach((l, i) => pageNote('<b>' + l + '</b>', letterX[i], letterY[i], 34))

const layout = {
  width: PAGE_W, height: PAGE_H, margin: { l: 0, r: 0, t: 0, b: 0 }, paper_bgcolor: '#fff', plot_bgcolor: 'rgba(0,0,0,0)',
  showlegend: false, font: { family: FONT }, annotations,
  xaxis: { domain: xDom(450, 1690), range: [-0.5, 66.5], type: 'category', anchor: 'y', tickmode: 'linear', tick0: 0, dtick: 1, tickangle: -62, showgrid: false, zeroline: false,
    ticks: 'outside', ticklen: 5, tickcolor: 'rgba(0,0,0,0)', tickfont: { family: FONT, size: 11, color: '#4D4D4D' }, fixedrange: true },
  yaxis: { domain: yDom(656.5, 1116), range: [14.5, -0.5], type: 'category', anchor: 'x', showgrid: false, zeroline: false,
    ticks: 'outside', ticklen: 6, tickcolor: 'rgba(0,0,0,0)', tickfont: { family: FONT, size: 11, color: '#4D4D4D' }, fixedrange: true },
  xaxis2: hidden(xDom(560, 1100), [560 - 843.6, 1100 - 843.6]),
  yaxis2: hidden(yDom(30, 610), [305.4 - 610, 305.4 - 30]),
  xaxis3: hidden(xDom(1100, 1660), [0, 1568]),
  yaxis3: hidden(yDom(30, 630), [1568, 0]),
  xaxis4: hidden(xDom(0, 700), [0, 1568]),
  yaxis4: hidden(yDom(1180, 1752), [1568, 0]),
  xaxis5: hidden(xDom(720, 1340), [0, 1568]),
  yaxis5: hidden(yDom(1180, 1752), [1568, 0]),
  xaxis6: hidden(xDom(1340, 1948), [0, 1568]),
  yaxis6: hidden(yDom(1190, 1752), [1568, 0]),
  xaxis7: { domain: xDom(128, 446), range: [-0.5, 5.5], anchor: 'y7', tickmode: 'array', tickvals: [0, 1, 2, 3, 4, 5], ticktext: padjustTicks, ticks: '', showgrid: false, zeroline: false,
    showline: true, mirror: true, linecolor: '#666', linewidth: 1, tickfont: { family: FONT, size: 10, color: '#222' }, fixedrange: true },
  yaxis7: { domain: yDom(588.6, 595.4), range: [-0.5, 0.5], anchor: 'x7', showticklabels: false, ticks: '', showgrid: false, zeroline: false, showline: true, mirror: true, linecolor: '#666', linewidth: 1, fixedrange: true },
  xaxis8: hidden(xDom(673, 704), [-0.5, 4.5]),
  yaxis8: hidden(yDom(574, 580), [-0.5, 0.5]),
  xaxis9: hidden([0, 1], [0, PAGE_W]),
  yaxis9: hidden([0, 1], [PAGE_H, 0]),
  xaxis10: hidden(xDom(1228.6, 1315), [-0.5, 5.5]),
  yaxis10: hidden(yDom(576.5, 593), [-0.5, 0.5])
}

Plotly.newPlot('plot', traces, layout, { displayModeBar: false, staticPlot: true })
</script>
</body>
</html>
